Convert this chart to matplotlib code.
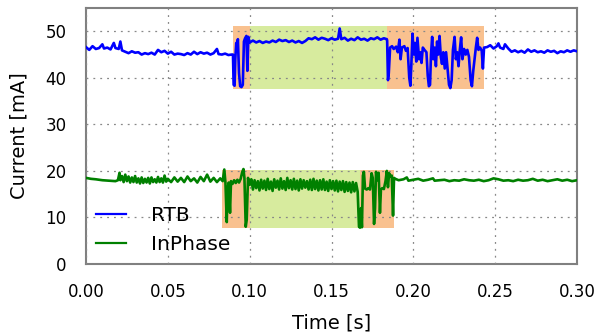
import matplotlib
matplotlib.use("Agg")
import matplotlib.pyplot as plt

# RTB current trace (time [s], current [mA])
rtb_t = [0.000, 0.002, 0.004, 0.006, 0.008, 0.010, 0.011, 0.013, 0.015, 0.017, 0.018, 0.020, 0.021, 0.022,
         0.024, 0.026, 0.028, 0.030, 0.032, 0.034, 0.036, 0.038, 0.040, 0.042, 0.044, 0.046, 0.048, 0.050,
         0.052, 0.054, 0.056, 0.058, 0.060, 0.062, 0.064, 0.066, 0.068, 0.070, 0.072, 0.074, 0.076, 0.078,
         0.080, 0.081, 0.083, 0.085, 0.087, 0.089,
         0.0898, 0.0902, 0.0908, 0.0912, 0.0918, 0.0922, 0.0928, 0.0935, 0.0942, 0.0950, 0.0958, 0.0965,
         0.0972, 0.0980, 0.0986, 0.0992, 0.1000,
         0.102, 0.104, 0.106, 0.108, 0.110, 0.112, 0.114, 0.116, 0.118, 0.120, 0.122, 0.124, 0.126, 0.128,
         0.130, 0.132, 0.134, 0.136, 0.138, 0.140, 0.142, 0.144, 0.146, 0.148, 0.150, 0.152, 0.154, 0.155,
         0.156, 0.158, 0.160, 0.162, 0.164, 0.166, 0.168, 0.170, 0.172, 0.174, 0.176, 0.178, 0.180, 0.182,
         0.1838,
         0.1840, 0.1845, 0.1850, 0.1858, 0.1870, 0.1880, 0.1895, 0.1905, 0.1915, 0.1922, 0.1930, 0.1945,
         0.1955, 0.1965, 0.1975, 0.1982, 0.1988, 0.1995, 0.2002, 0.2010, 0.2018, 0.2025, 0.2035, 0.2042,
         0.2050, 0.2058, 0.2068, 0.2080, 0.2088, 0.2095, 0.2102, 0.2108, 0.2115, 0.2122, 0.2130, 0.2138,
         0.2145, 0.2152, 0.2160, 0.2168, 0.2175, 0.2183, 0.2192, 0.2200, 0.2208, 0.2218, 0.2226, 0.2234,
         0.2242, 0.2252, 0.2260, 0.2268, 0.2276, 0.2284, 0.2292, 0.2300, 0.2310, 0.2320, 0.2330, 0.2340,
         0.2350, 0.2358, 0.2366, 0.2374, 0.2382, 0.2390, 0.2398, 0.2408, 0.2418, 0.2425, 0.2432,
         0.245, 0.247, 0.249, 0.251, 0.252, 0.253, 0.255, 0.256, 0.258, 0.260, 0.262, 0.264, 0.266, 0.268,
         0.270, 0.272, 0.274, 0.276, 0.278, 0.280, 0.282, 0.284, 0.286, 0.288, 0.290, 0.292, 0.294, 0.296,
         0.298, 0.300]
rtb_i = [46.6, 46.0, 46.8, 46.2, 46.4, 47.2, 46.3, 46.5, 46.1, 47.5, 46.4, 46.2, 47.8, 45.9,
         45.6, 45.3, 45.7, 45.4, 45.5, 45.0, 45.3, 45.1, 45.4, 45.0, 46.0, 45.5, 45.8, 45.2,
         45.6, 45.0, 45.2, 45.1, 44.9, 45.3, 45.0, 45.6, 45.1, 45.5, 45.2, 45.4, 45.0, 45.3,
         46.2, 45.1, 45.0, 45.2, 44.9, 45.0,
         45.0, 38.5, 38.3, 44.0, 47.5, 46.5, 48.3, 41.0, 38.2, 38.0, 38.5, 47.8,
         48.5, 49.0, 41.5, 48.8, 47.6,
         48.0, 47.6, 47.9, 47.5, 47.8, 47.6, 48.0, 47.7, 48.2, 47.9, 48.1, 47.7, 48.0, 47.6,
         47.9, 47.5, 47.9, 48.5, 48.3, 48.7, 48.2, 48.6, 48.4, 48.1, 48.5, 48.2, 48.4, 50.6,
         48.3, 48.6, 48.0, 48.4, 48.1, 48.7, 48.2, 48.4, 48.0, 48.5, 48.3, 48.7, 48.2, 48.5,
         48.3,
         48.0, 39.5, 41.0, 46.5, 46.8, 46.2, 46.7, 45.5, 48.2, 44.0, 46.5, 46.8,
         45.8, 46.4, 40.0, 38.3, 43.0, 49.5, 45.0, 47.5, 43.5, 48.6, 44.0, 45.5,
         43.2, 46.5, 46.0, 45.5, 40.5, 38.2, 38.5, 45.0, 48.8, 44.0, 46.5, 42.5,
         47.8, 45.0, 49.0, 44.5, 43.0, 45.5, 42.0, 45.5, 42.5, 38.5, 37.8, 39.5,
         46.0, 48.8, 44.0, 45.5, 42.5, 46.0, 48.7, 44.0, 46.2, 45.0, 46.0, 44.5,
         39.5, 38.2, 41.5, 44.0, 46.5, 48.6, 46.0, 46.5, 45.8, 42.0, 46.5,
         46.6, 47.0, 46.3, 46.8, 47.4, 46.5, 46.2, 47.2, 46.3, 45.6, 45.9, 45.5, 45.8, 45.4,
         46.1, 45.6, 45.9, 45.5, 45.7, 45.4, 45.9, 45.6, 45.8, 45.3, 45.7, 45.5, 45.9, 45.6,
         45.9, 45.7]

# InPhase current trace (time [s], current [mA])
inp_t = [0.000, 0.003, 0.006, 0.010, 0.014, 0.018, 0.0195, 0.0205, 0.021, 0.022, 0.023, 0.024, 0.025,
         0.026, 0.027, 0.028, 0.029, 0.030, 0.031, 0.032, 0.033, 0.034, 0.035, 0.036, 0.037, 0.038,
         0.039, 0.040, 0.041, 0.042, 0.043, 0.044, 0.045, 0.046, 0.047, 0.048, 0.049, 0.050, 0.052,
         0.054, 0.056, 0.058, 0.060, 0.062, 0.064, 0.066, 0.068, 0.070, 0.072, 0.074, 0.076, 0.078,
         0.080, 0.082, 0.0835, 0.0845, 0.0852, 0.0860, 0.0865, 0.0872, 0.0880, 0.0886, 0.0895, 0.0905,
         0.0915, 0.0925, 0.0935, 0.0945, 0.0955, 0.0962, 0.0968, 0.0976, 0.0982, 0.0990, 0.1000,
         0.1010, 0.1020, 0.1030, 0.1040, 0.1050, 0.1060, 0.1070, 0.1080, 0.1090, 0.1100, 0.1110, 0.1120,
         0.1130, 0.1140, 0.1150, 0.1160, 0.1170, 0.1180, 0.1190, 0.1200, 0.1210, 0.1220, 0.1230, 0.1240,
         0.1250, 0.1260, 0.1270, 0.1280, 0.1290, 0.1300, 0.1310, 0.1320, 0.1330, 0.1340, 0.1350, 0.1360,
         0.1370, 0.1380, 0.1390, 0.1400, 0.1410, 0.1420, 0.1430, 0.1440, 0.1450, 0.1460, 0.1470, 0.1480,
         0.1490, 0.1500, 0.1510, 0.1520, 0.1530, 0.1540, 0.1550, 0.1560, 0.1570, 0.1580, 0.1590, 0.1600,
         0.1610, 0.1620, 0.1630, 0.1640, 0.1650, 0.1660,
         0.1668, 0.1674, 0.1680, 0.1686, 0.1692, 0.1698, 0.1705, 0.1715, 0.1725, 0.1735, 0.1745, 0.1752,
         0.1760, 0.1766, 0.1772, 0.1780, 0.1788, 0.1796, 0.1802, 0.1810, 0.1820, 0.1830, 0.1838, 0.1845,
         0.1852, 0.1860, 0.1868, 0.1876, 0.1882, 0.1890,
         0.191, 0.194, 0.196, 0.197, 0.200, 0.203, 0.206, 0.209, 0.212, 0.213, 0.216, 0.219, 0.222,
         0.225, 0.228, 0.231, 0.234, 0.237, 0.240, 0.243, 0.246, 0.249, 0.252, 0.255, 0.258, 0.261,
         0.264, 0.267, 0.270, 0.273, 0.276, 0.279, 0.282, 0.285, 0.288, 0.291, 0.294, 0.297, 0.300]
inp_i = [18.5, 18.3, 18.2, 18.0, 17.9, 17.8, 18.0, 19.6, 18.0, 18.9, 17.6, 19.2, 17.8,
         18.8, 17.5, 18.6, 17.6, 18.9, 17.5, 18.4, 17.3, 18.6, 17.4, 18.3, 17.5, 18.5,
         17.3, 18.6, 17.6, 18.2, 17.5, 18.7, 17.6, 18.4, 17.5, 19.0, 17.7, 18.3, 17.6,
         18.6, 17.7, 18.5, 17.6, 18.8, 17.8, 18.4, 17.5, 18.7, 17.8, 19.2, 17.7, 18.5,
         17.6, 18.4, 17.8, 20.3, 17.5, 9.0, 16.0, 17.5, 11.0, 17.8, 17.2, 18.0,
         17.4, 18.1, 17.5, 18.3, 19.8, 20.4, 18.5, 8.0, 9.5, 18.5, 17.0,
         18.2, 16.0, 18.0, 16.3, 17.8, 15.8, 18.1, 16.2, 17.9, 15.9, 18.3, 16.1,
         17.7, 15.7, 18.2, 16.4, 17.9, 16.0, 18.4, 16.2, 17.8, 15.9, 18.5, 16.3,
         18.0, 16.0, 18.3, 16.1, 17.9, 15.8, 18.2, 16.2, 18.0, 16.4, 17.8, 16.0,
         18.1, 15.9, 18.3, 16.1, 17.9, 15.8, 18.0, 16.0, 18.2, 15.9, 17.7, 15.7,
         18.0, 16.1, 17.8, 15.8, 17.9, 15.6, 17.7, 15.9, 17.8, 15.5, 17.6, 15.7,
         17.5, 15.4, 17.6, 15.6, 17.4, 15.5,
         8.0, 7.8, 12.0, 7.9, 19.0, 19.8, 16.2, 16.0, 16.3, 16.0, 19.5, 18.5,
         8.6, 12.0, 19.8, 18.0, 19.6, 11.0, 16.0, 16.3, 16.1, 17.8, 20.0, 16.5,
         19.5, 18.8, 19.0, 10.4, 18.5, 18.3,
         18.0, 18.2, 18.6, 17.9, 18.1, 18.3, 17.9, 18.1, 18.4, 17.9, 18.0, 18.1, 17.8,
         18.0, 17.9, 18.2, 18.0, 17.9, 18.1, 17.8, 18.0, 18.4, 18.2, 17.9, 18.0, 17.8,
         18.1, 17.9, 18.0, 18.3, 17.9, 18.1, 17.8, 18.0, 18.2, 17.9, 18.1, 17.8, 18.0]

# highlighted phases: (start, end, bottom, top, kind)
rtb_phases = [(0.0898, 0.1002, 37.6, 51.1, "switch"),
              (0.1002, 0.1839, 37.6, 51.1, "stable"),
              (0.1839, 0.2432, 37.6, 51.1, "switch")]
inp_phases = [(0.0831, 0.1002, 7.8, 20.3, "switch"),
              (0.1002, 0.1674, 7.8, 20.3, "stable"),
              (0.1674, 0.1880, 7.8, 20.3, "switch")]
phase_colors = {"switch": "#f9c18f", "stable": "#d7eb9e"}

fig = plt.figure(figsize=(5.98, 3.34), dpi=100)
ax = fig.add_axes([0.1438, 0.2096, 0.8211, 0.7664])

for t0, t1, y0, y1, kind in rtb_phases + inp_phases:
    ax.fill_between([t0, t1], y0, y1, color=phase_colors[kind], linewidth=0, zorder=1)

ax.plot(rtb_t, rtb_i, color="#0000ff", lw=1.9, label="RTB", zorder=3)
ax.plot(inp_t, inp_i, color="#008000", lw=1.9, label="InPhase", zorder=3)

ax.set_xlim(0, 0.3)
ax.set_ylim(0, 55)
ax.set_xticks([0.0, 0.05, 0.10, 0.15, 0.20, 0.25, 0.30])
ax.set_yticks([0, 10, 20, 30, 40, 50])
ax.xaxis.set_major_formatter(matplotlib.ticker.FormatStrFormatter("%.2f"))
ax.tick_params(length=0, labelsize=12, pad=14)
ax.grid(True, color="#888888", linestyle=(0, (1.5, 4)), linewidth=0.9, zorder=2)
ax.set_axisbelow(False)
for s in ax.spines.values():
    s.set_color("#808080")
    s.set_linewidth(1.5)

ax.set_xlabel("Time [s]", fontsize=14, labelpad=8.5)
ax.set_ylabel("Current [mA]", fontsize=14, labelpad=12)

leg = ax.legend(loc="lower left", bbox_to_anchor=(0.0, 0.0), frameon=False, fontsize=14.5,
                handlelength=1.5, handletextpad=1.25, borderaxespad=0.3, borderpad=0.2,
                labelspacing=0.5)
for h in leg.get_lines():
    h.set_linewidth(1.6)

fig.savefig("out.png", dpi=100)
